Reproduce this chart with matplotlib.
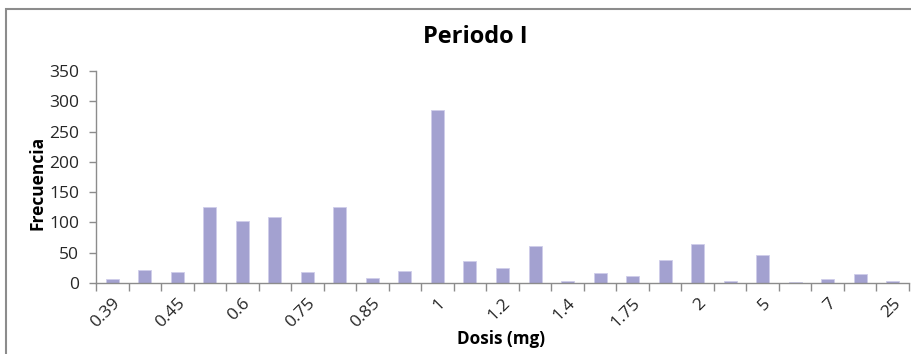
import matplotlib
matplotlib.use("Agg")
import matplotlib.pyplot as plt
from matplotlib.patches import Rectangle
import numpy as np

plt.rcParams['font.family'] = ['Open Sans', 'DejaVu Sans']

# dose categories (only every other one is labelled on the axis)
dosis = ['0.39', '0.4', '0.45', '0.5', '0.6', '0.7', '0.75', '0.8', '0.85', '0.9',
         '1', '1.1', '1.2', '1.25', '1.4', '1.5', '1.75', '1.8', '2', '3',
         '5', '6', '7', '10', '25']
frecuencia = [7, 22, 18, 126, 103, 109, 18, 125, 9, 19,
              285, 36, 25, 61, 3, 17, 12, 38, 64, 3,
              47, 2, 6, 15, 3]

fig = plt.figure(figsize=(9.12, 3.54), dpi=100)
fig.patch.set_facecolor('white')

# chart border (top and left edges visible)
fig.patches.append(Rectangle((6 / 912, -0.1), 1.2, 1.1 - 9 / 354,
                             transform=fig.transFigure, fill=False,
                             edgecolor='#8c8c8c', linewidth=1.5, zorder=0))

ax = fig.add_axes([96 / 912, 1 - 283 / 354, (909 - 96) / 912, (283 - 71) / 354])

x = np.arange(len(dosis))
ax.bar(x, frecuencia, width=0.4, color='#a3a1d0', edgecolor='#cfcdea', linewidth=0.6)

ax.set_xlim(-0.5, len(dosis) - 0.5)
ax.set_ylim(0, 350)
ax.set_yticks(range(0, 351, 50))

ax.set_xticks(x[::2])
ax.set_xticklabels(dosis[::2], rotation=45, ha='right', va='top',
                   rotation_mode='anchor', fontsize=12.5)
ax.set_xticks(np.arange(-0.5, len(dosis), 1), minor=True)
ax.tick_params(axis='x', which='major', length=0, pad=9)
ax.tick_params(axis='x', which='minor', length=6, color='#8c8c8c', width=1)
ax.tick_params(axis='y', length=5, color='#8c8c8c', width=1, labelsize=12.5,
               pad=7, labelcolor='#262626')
ax.tick_params(axis='x', labelcolor='#262626')

for s in ['top', 'right']:
    ax.spines[s].set_visible(False)
for s in ['left', 'bottom']:
    ax.spines[s].set_color('#8c8c8c')
    ax.spines[s].set_linewidth(1)

ax.set_ylabel('Frecuencia', fontsize=12.5, fontweight='bold')
ax.yaxis.set_label_coords(-0.061, 0.47)
fig.text(501 / 912, 1 - 339 / 354, 'Dosis (mg)', ha='center', va='center',
         fontsize=12.3, fontweight='bold')
fig.text(475 / 912, 1 - 37 / 354, 'Periodo I', ha='center', va='center',
         fontsize=17, fontweight='bold')

fig.savefig('out.png', dpi=100)
